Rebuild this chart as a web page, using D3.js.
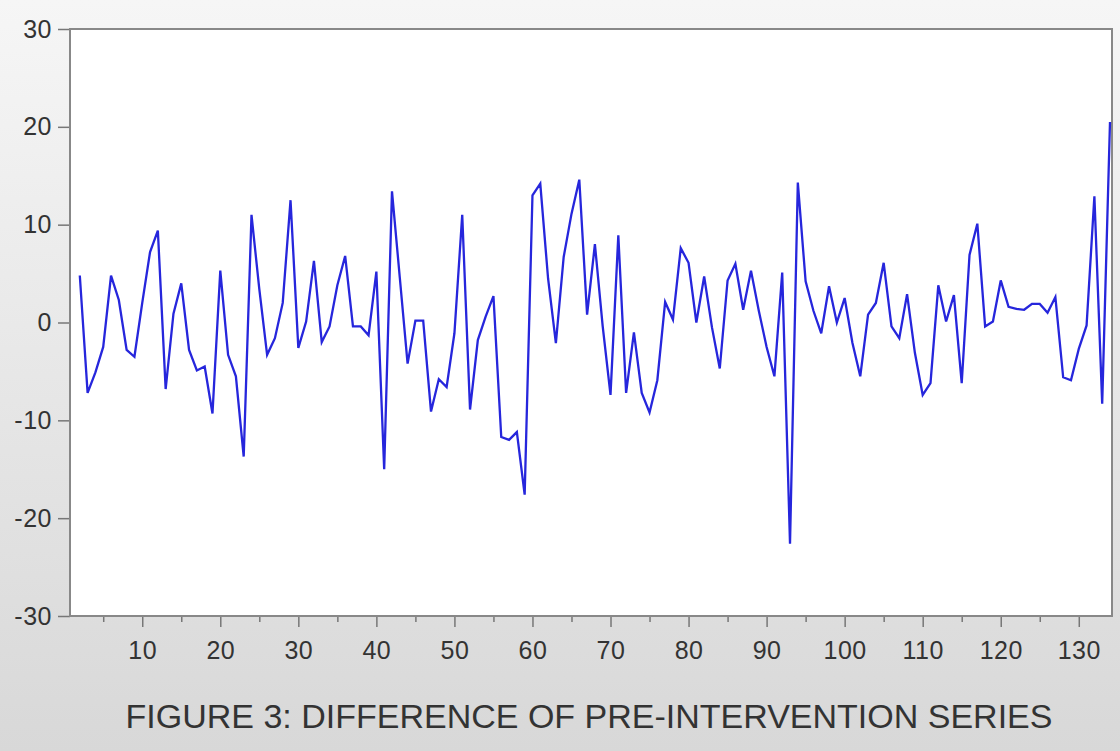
<!DOCTYPE html>
<meta charset="utf-8">
<style>
  body { margin: 0; background: #fff; }
  text { font-family: "Liberation Sans", Arial, sans-serif; fill: #333; }
</style>
<body>
<script src="https://cdn.jsdelivr.net/npm/d3@7/dist/d3.min.js"></script>
<script>

var width = 1120,
    height = 751;

// differenced series: first obs is lost, so it starts at 2
var startObs = 2;
var values = [
   4.8, -7.2, -5.1, -2.5,  4.8,  2.3, -2.8, -3.5,  2.0,  7.2,   // 2-11
   9.4, -6.8,  0.9,  4.0, -2.8, -4.9, -4.5, -9.3,  5.3, -3.3,   // 12-21
  -5.5,-13.7, 11.0,  3.4, -3.3, -1.6,  2.0, 12.5, -2.6,  0.1,   // 22-31
   6.3, -2.0, -0.4,  3.8,  6.8, -0.4, -0.4, -1.3,  5.2,-15.0,   // 32-41
  13.4,  4.6, -4.2,  0.2,  0.2, -9.1, -5.8, -6.6, -1.1, 11.0,   // 42-51
  -8.9, -1.8,  0.6,  2.7,-11.7,-12.0,-11.2,-17.6, 13.0, 14.2,   // 52-61
   4.5, -2.1,  6.7, 11.1, 14.6,  0.8,  8.0, -0.4, -7.4,  8.9,   // 62-71
  -7.2, -1.0, -7.2, -9.2, -5.9,  2.1,  0.3,  7.6,  6.1,  0.0,   // 72-81
   4.7, -0.5, -4.7,  4.3,  6.0,  1.3,  5.3,  1.2, -2.5, -5.5,   // 82-91
   5.1,-22.6, 14.3,  4.2,  1.2, -1.1,  3.7,  0.0,  2.5, -2.1,   // 92-101
  -5.5,  0.8,  2.0,  6.1, -0.4, -1.6,  2.9, -3.1, -7.4, -6.2,   // 102-111
   3.8,  0.1,  2.8, -6.2,  6.9, 10.1, -0.4,  0.1,  4.3,  1.6,   // 112-121
   1.4,  1.3,  1.9,  1.9,  1.0,  2.6, -5.6, -5.9, -2.7, -0.3,   // 122-131
  12.9, -8.3, 20.5                                              // 132-134
];
var nObs = 134;

var yTicks = [-30, -20, -10, 0, 10, 20, 30];
var xTicks = d3.range(10, 131, 10);
var xMinor = d3.range(5, 131, 10);
var title = "FIGURE 3: DIFFERENCE OF PRE-INTERVENTION SERIES";

var frame = {left: 70, right: 1112, top: 29, bottom: 616};

var x = d3.scaleLinear().domain([1, nObs]).range([frame.left + 2, frame.right - 2]);
var y = d3.scaleLinear().domain([-30, 30]).range([frame.bottom, frame.top]);

var svg = d3.select("body").append("svg")
    .attr("width", width)
    .attr("height", height);

var grad = svg.append("defs").append("linearGradient")
    .attr("id", "bg").attr("x1", 0).attr("y1", 0).attr("x2", 0).attr("y2", 1);
grad.append("stop").attr("offset", "0%").attr("stop-color", "#f6f6f6");
grad.append("stop").attr("offset", "100%").attr("stop-color", "#d8d8d8");

svg.append("rect")
    .attr("width", width).attr("height", height)
    .attr("fill", "url(#bg)");

svg.append("rect")
    .attr("x", frame.left).attr("y", frame.top)
    .attr("width", frame.right - frame.left)
    .attr("height", frame.bottom - frame.top)
    .attr("fill", "#fff");

// plain hyphen, not the unicode minus d3 uses
var fmt = d => String(d);

// y axis
var yAxis = svg.append("g")
    .attr("transform", "translate(" + frame.left + ",0)")
    .call(d3.axisLeft(y).tickValues(yTicks).tickSize(12).tickPadding(6).tickFormat(fmt));
yAxis.select(".domain").remove();
yAxis.selectAll("line").attr("stroke", "#777").attr("stroke-width", 1.5);
yAxis.selectAll("text").style("font-size", "25px").style("letter-spacing", "0.5px").attr("fill", "#333");

// x axis, major + minor
var xAxis = svg.append("g")
    .attr("transform", "translate(0," + frame.bottom + ")")
    .call(d3.axisBottom(x).tickValues(xTicks).tickSize(11).tickPadding(14).tickFormat(fmt));
xAxis.select(".domain").remove();
xAxis.selectAll("line").attr("stroke", "#777").attr("stroke-width", 1.5);
xAxis.selectAll("text").style("font-size", "25px").style("letter-spacing", "0.5px").attr("fill", "#333");

svg.append("g")
    .attr("transform", "translate(0," + frame.bottom + ")")
    .call(d3.axisBottom(x).tickValues(xMinor).tickSize(6).tickFormat(""))
  .call(g => g.select(".domain").remove())
  .selectAll("line").attr("stroke", "#777").attr("stroke-width", 1.5);

svg.append("rect")
    .attr("x", frame.left).attr("y", frame.top)
    .attr("width", frame.right - frame.left)
    .attr("height", frame.bottom - frame.top)
    .attr("fill", "none")
    .attr("stroke", "#888")
    .attr("stroke-width", 2);

var line = d3.line()
    .x((d, i) => x(i + startObs))
    .y(d => y(d));

svg.append("path")
    .datum(values)
    .attr("fill", "none")
    .attr("stroke", "#2626dc")
    .attr("stroke-width", 2.3)
    .attr("stroke-linejoin", "miter")
    .attr("d", line);

svg.append("text")
    .attr("x", 589)
    .attr("y", 728)
    .attr("text-anchor", "middle")
    .style("font-size", "34px")
    .attr("fill", "#333")
    .text(title);

</script>
